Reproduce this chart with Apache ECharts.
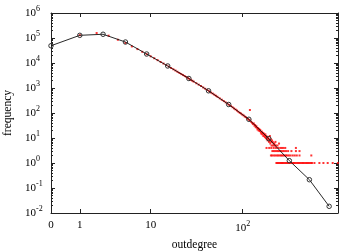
<!DOCTYPE html>
<html><head><meta charset="utf-8">
<script src="https://cdn.jsdelivr.net/npm/echarts@6/dist/echarts.min.js"></script>
<style>html,body{margin:0;padding:0;background:#fff}#c{width:360px;height:252px}</style>
</head><body><div id="c"></div>
<script>
// Log-binned distribution (black line with open circles)
const binnedDegree = [0, 1, 2.5, 5, 9, 15.6, 26.6, 43.3, 71, 116, 188, 309, 501, 807];
const binnedFreq = [4.9e4, 1.28e5, 1.41e5, 6.9e4, 2.29e4, 7.6e3, 2.4e3, 773, 219, 56, 9.4, 1.24, 0.215, 0.0185];

// Raw distribution (red dots)
const rawDegree = [1,2,3,4,5,6,7,8,9,10,11,12,13,14,15,16,17,18,19,20,
  21,22,23,24,25,26,27,28,29,30,32,34,36,38,40,42,44,46,48,50,52,54,57,60,63,66,69,72,75,78,
  81,84,87,90,93,96,99,102,105,108,111,114,117,119,120,123,126,128,131,133,135,137,139,141,143,145,147,149,
  151,153,155,157,159,161,163,165,167,169,171,173,175,177,179,181,183,185,187,189,191,193,195,197,199,
  201,203,207,209,211,215,217,221,223,232,241];
const rawFreq = [130000,158000,124000,85000,63000,46000,36000,28000,22500,18500,15500,13000,11000,9500,8300,7200,6300,5600,5000,4450,
  4000,3600,3300,3000,2750,2500,2300,2100,1950,1800,1550,1360,1200,1050,930,830,740,660,600,540,490,445,385,340,300,265,235,210,190,170,
  152,138,125,112,101,95,86,80,72,68,61,58,52,132,50,44,40,36,38,31,33,27,30,26,22,25,20,23,
  19,21,17,15,18,14,16,12,15,13,11,14,10,12,9,11,8,10,9,7,8,12,6,9,7,
  5,8,7,5,6,6,5,7,5,5,6];
const fourCountDegree = [178,190,200,212,224,236,248,258,268,280,362];
const threeCountDegree = [205,212,220,228,236,244,252,262,272,285,300,325,362,395];
const twoCountDegree = [198,204,212,220,228,236,244,252,260,268,276,285,294,305,318,335,352,370,395,525];
const oneCountDegree = [226,232,238,245,252,259,266,274,282,290,298,307,316,326,336,346,357,368,380,392,404,417,430,444,458,472,487,502,518,534,566,638,703,779,879,995];

// Axis ticks
const xTickDegree = [0, 1, 10, 100];
const xTickText = ['0', '1', '10', '10^2'];
const yTickValues = [0.01, 0.1, 1, 10, 100, 1e3, 1e4, 1e5, 1e6];
const yTickExp = ['-2', '-1', '0', '1', '2', '3', '4', '5', '6'];
const yMinorMultipliers = [2, 3, 4, 5, 6, 7, 8, 9];

const FONT = 'Liberation Serif';
const INK = '#222';

const xTickPos = xTickDegree.map(d => d + 1);
const yMinor = [];
yTickValues.slice(0, -1).forEach(v => yMinorMultipliers.forEach(m => yMinor.push(v * m)));

const rich = {
  b: { fontFamily: FONT, fontSize: 11, color: '#000' },
  s: { fontFamily: FONT, fontSize: 8, color: '#000', padding: [0, 0, 9, 0] }
};
function supText(t) {
  const p = t.split('^');
  return p.length > 1 ? '{b|' + p[0] + '}{s|' + p[1] + '}' : '{b|' + p[0] + '}';
}

const red = [];
rawDegree.forEach((d, i) => red.push([d + 1, rawFreq[i]]));
fourCountDegree.forEach(d => red.push([d + 1, 4]));
threeCountDegree.forEach(d => red.push([d + 1, 3]));
twoCountDegree.forEach(d => red.push([d + 1, 2]));
oneCountDegree.forEach(d => red.push([d + 1, 1]));
const black = binnedDegree.map((d, i) => [d + 1, binnedFreq[i]]);

const lineStyle = { color: INK, width: 1 };
const gridPos = { left: 51, right: 22, top: 13, bottom: 39, outerBoundsMode: 'none', containLabel: false };

function xAx(gridIndex, pos, major) {
  return {
    type: 'log', logBase: 10, min: 1, max: 1000, gridIndex, position: pos,
    axisLine: { show: major, lineStyle },
    axisTick: { show: major, inside: true, length: 4, customValues: xTickPos, lineStyle },
    axisLabel: {
      show: major && pos === 'bottom', customValues: xTickPos, margin: 7,
      formatter: v => { const i = xTickPos.findIndex(p => Math.abs(p - v) < 1e-6); return i >= 0 ? supText(xTickText[i]) : ''; },
      rich
    },
    splitLine: { show: false }, minorTick: { show: false }
  };
}
function yAx(gridIndex, pos, major) {
  return {
    type: 'log', logBase: 10, min: 0.01, max: 1e6, gridIndex, position: pos,
    axisLine: { show: major, lineStyle },
    axisTick: { show: true, inside: true, length: major ? 4 : 2, customValues: major ? yTickValues : yMinor, lineStyle },
    axisLabel: {
      show: major && pos === 'left', customValues: yTickValues, align: 'left', margin: 26,
      formatter: v => { const i = yTickValues.findIndex(p => Math.abs(Math.log10(p) - Math.log10(v)) < 1e-6); return i >= 0 ? supText('10^' + yTickExp[i]) : ''; },
      rich
    },
    splitLine: { show: false }, minorTick: { show: false }
  };
}

const xAxes = [xAx(0, 'bottom', true), xAx(0, 'top', true), xAx(1, 'bottom', false), xAx(2, 'bottom', false)];
const yAxes = [yAx(0, 'left', true), yAx(0, 'right', true), yAx(1, 'left', false), yAx(2, 'right', false)];
Object.assign(xAxes[0], { name: 'outdegree', nameLocation: 'middle', nameGap: 26, nameTextStyle: { fontFamily: FONT, fontSize: 11.5, color: '#000' } });
Object.assign(yAxes[0], { name: 'frequency', nameLocation: 'middle', nameGap: 36, nameRotate: 90, nameTextStyle: { fontFamily: FONT, fontSize: 11.5, color: '#000' } });

const chart = echarts.init(document.getElementById('c'), null, { renderer: 'canvas' });
chart.setOption({
  animation: false,
  backgroundColor: '#fff',
  grid: [gridPos, gridPos, gridPos],
  xAxis: xAxes,
  yAxis: yAxes,
  series: [
    { type: 'scatter', xAxisIndex: 0, yAxisIndex: 0, data: red, symbol: 'rect', symbolSize: 2,
      itemStyle: { color: '#ff0000' }, silent: true, z: 2 },
    { type: 'line', xAxisIndex: 0, yAxisIndex: 0, data: black, symbol: 'circle', symbolSize: 4.5, showSymbol: true,
      lineStyle: { color: '#111', width: 0.9 }, itemStyle: { color: 'rgba(0,0,0,0)', borderColor: '#333', borderWidth: 1 }, silent: true, z: 3 }
  ]
});
</script>
</body></html>
